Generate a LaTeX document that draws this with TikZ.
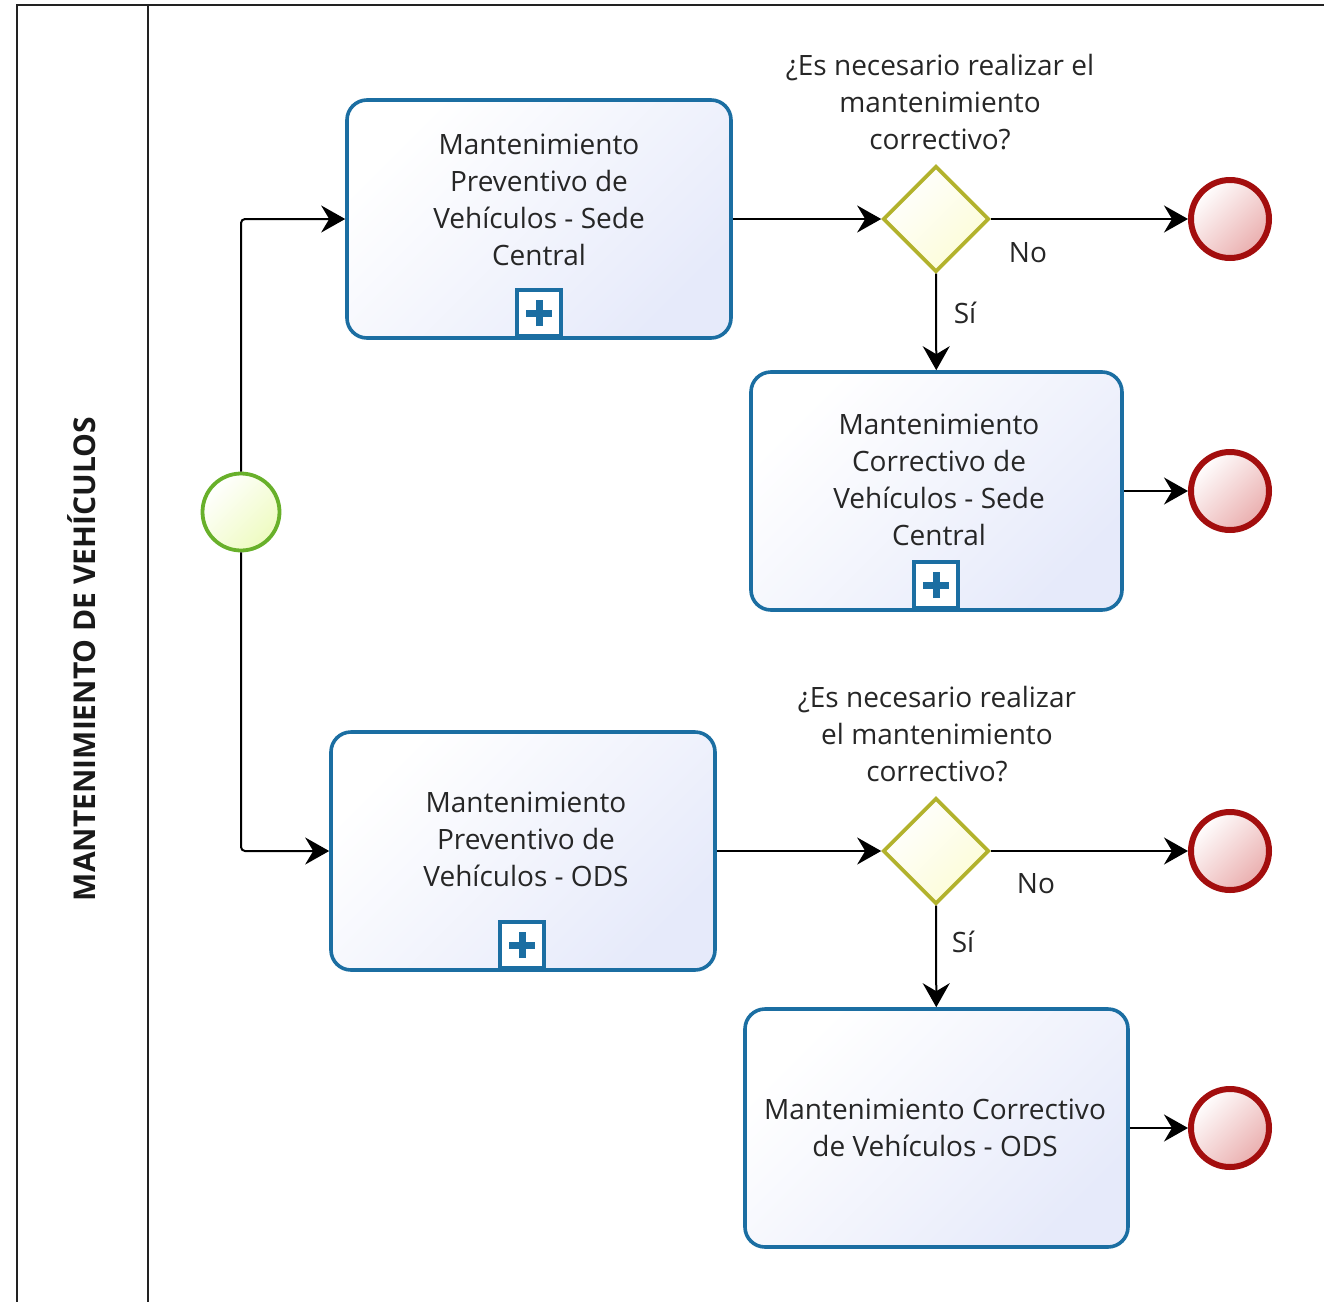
\documentclass[tikz,border=0pt]{standalone}
\usepackage{fontspec}
\setmainfont{Open Sans}
\usetikzlibrary{shapes.geometric,arrows.meta}
\definecolor{taskblue}{HTML}{1B6EA2}
\definecolor{taskfill}{HTML}{E6EAFA}
\definecolor{startgreen}{HTML}{68B02A}
\definecolor{startfill}{HTML}{EEFBC0}
\definecolor{gwborder}{HTML}{B2B22C}
\definecolor{gwfill}{HTML}{FCFCD6}
\definecolor{endred}{HTML}{A30E0E}
\definecolor{endfill}{HTML}{EAAEAE}
\definecolor{poolline}{HTML}{222222}
\tikzset{
  task/.style={rectangle, rounded corners=10pt, draw=taskblue, line width=1.8pt,
    top color=white, bottom color=taskfill, shading angle=45,
    minimum height=119pt, inner sep=0pt},
  tasktext/.style={align=center, font=\fontsize{14}{18.5}\selectfont, text=black!85},
  plusbox/.style={rectangle, draw=taskblue, line width=1.8pt, fill=white,
    minimum width=22pt, minimum height=23pt, inner sep=0pt,
    path picture={\draw[taskblue, line width=3.5pt]
      ([xshift=-6.5pt]path picture bounding box.center) -- ([xshift=6.5pt]path picture bounding box.center)
      ([yshift=-6.5pt]path picture bounding box.center) -- ([yshift=6.5pt]path picture bounding box.center);}},
  startev/.style={circle, draw=startgreen, line width=1.9pt, top color=white,
    bottom color=startfill, shading angle=45, minimum size=38.5pt, inner sep=0pt},
  endev/.style={circle, draw=endred, line width=3pt, top color=white,
    bottom color=endfill, shading angle=45, minimum size=39pt, inner sep=0pt},
  gateway/.style={diamond, draw=gwborder, line width=1.8pt, top color=white,
    bottom color=gwfill, shading angle=45, minimum width=53pt, minimum height=53pt,
    inner sep=0pt, aspect=1},
  flow/.style={draw=black, line width=1pt, -{Stealth[length=12pt,width=13.5pt,inset=4pt]}},
  lbl/.style={font=\fontsize{14}{18.5}\selectfont, text=black!85, align=center, inner sep=0pt},
}
\begin{document}
\begin{tikzpicture}[x=0.5pt, y=-0.5pt]
\useasboundingbox (0,0) rectangle (1324,1302);
\clip (0,0) rectangle (1324,1302);
% pool and lane header
\draw[poolline, line width=1pt] (17,5) rectangle (1340,1320);
\draw[poolline, line width=1pt] (148,5) -- (148,1320);
\node[rotate=90, font=\bfseries\fontsize{15}{18}\selectfont, text=black!90] (pooltitle) at (82,659) {MANTENIMIENTO DE VEHÍCULOS};

% nodes
\node[startev] (start) at (241,512) {};

\node[task, minimum width=192pt] (t1) at (539,219) {};
\node[tasktext] (t1txt) at (539,199.5) {Mantenimiento\\Preventivo de\\Vehículos - Sede\\Central};
\node[plusbox, anchor=south] (p1) at (539,338) {};

\node[gateway] (g1) at (936,219) {};
\node[lbl] (q1) at (940,102) {¿Es necesario realizar el\\mantenimiento\\correctivo?};
\node[endev] (e1) at (1230,219) {};

\node[task, minimum width=185.5pt] (t2) at (936.5,491) {};
\node[tasktext] (t2txt) at (939,479.5) {Mantenimiento\\Correctivo de\\Vehículos - Sede\\Central};
\node[plusbox, anchor=south] (p2) at (936,610) {};
\node[endev] (e2) at (1230,491) {};

\node[task, minimum width=192pt] (t3) at (523,851) {};
\node[tasktext] (t3txt) at (526,839) {Mantenimiento\\Preventivo de\\Vehículos - ODS};
\node[plusbox, anchor=south] (p3) at (522,970) {};

\node[gateway] (g2) at (936,851) {};
\node[lbl] (q2) at (937,734) {¿Es necesario realizar\\el mantenimiento\\correctivo?};
\node[endev] (e3) at (1230,851) {};

\node[task, minimum width=191.5pt] (t4) at (936.5,1128) {};
\node[tasktext] (t4txt) at (935,1127.5) {Mantenimiento Correctivo\\de Vehículos - ODS};
\node[endev] (e4) at (1230,1128) {};

% labels
\node[lbl] (no1) at (1028,253) {No};
\node[lbl] (si1) at (965,313) {Sí};
\node[lbl] (no2) at (1036,884) {No};
\node[lbl] (si2) at (963,942) {Sí};

% flows
\draw[flow, rounded corners=2pt] (start) |- (t1);
\draw[flow, rounded corners=2pt] (start) |- (t3);
\draw[flow] (t1) -- (g1);
\draw[flow] (g1) -- (e1);
\draw[flow] (g1) -- (t2);
\draw[flow] (t2) -- (e2);
\draw[flow] (t3) -- (g2);
\draw[flow] (g2) -- (e3);
\draw[flow] (g2) -- (t4);
\draw[flow] (t4) -- (e4);
\end{tikzpicture}
\end{document}
